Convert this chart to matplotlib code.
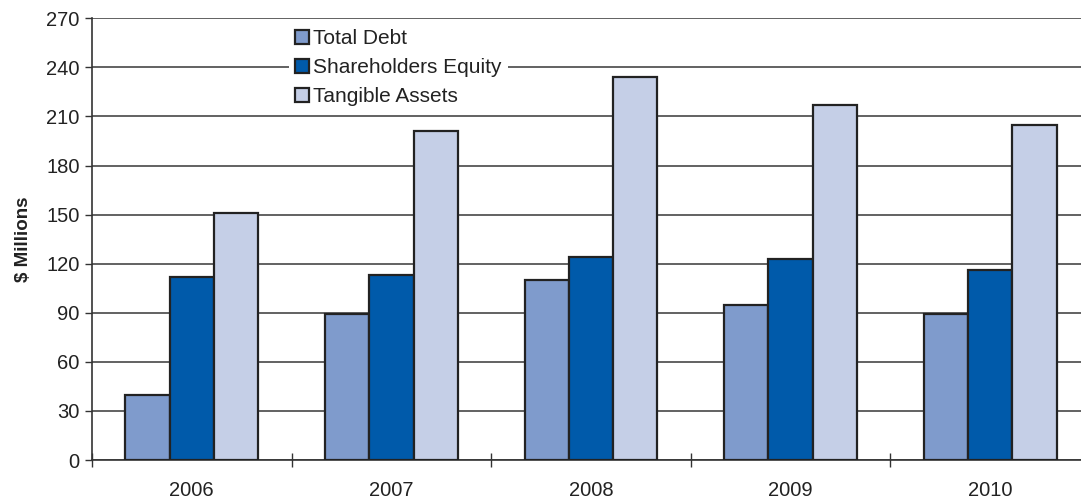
import matplotlib.pyplot as plt
import numpy as np
from matplotlib.ticker import FixedLocator

plt.rcParams["font.family"] = ["Liberation Sans", "DejaVu Sans"]

years = ["2006", "2007", "2008", "2009", "2010"]
total_debt = [40, 89, 110, 95, 89]
shareholders_equity = [112, 113, 124, 123, 116]
tangible_assets = [151, 201, 234, 217, 205]

series = [
    ("Total Debt", total_debt, "#7f9bcc"),
    ("Shareholders Equity", shareholders_equity, "#005aaa"),
    ("Tangible Assets", tangible_assets, "#c5cfe7"),
]

fig = plt.figure(figsize=(10.81, 4.99), dpi=100)
# axes runs slightly past the right edge, so the right border is cut off
ax = fig.add_axes([92 / 1081, 1 - 460 / 499, 998 / 1081, (460 - 18.3) / 499])

x = np.arange(len(years))
width = 0.222
for i, (label, vals, color) in enumerate(series):
    ax.bar(x + (i - 1) * width, vals, width, color=color, edgecolor="#222222",
           linewidth=1.6, label=label, zorder=3)

ax.set_xlim(-0.5, len(years) - 0.5)
ax.set_ylim(0, 270)
ax.set_yticks(np.arange(0, 271, 30))
ax.yaxis.grid(True, color="#555555", linewidth=1.3, zorder=0)
ax.set_axisbelow(True)

# year boundaries carry the ticks, labels sit at the group centres
ax.xaxis.set_major_locator(FixedLocator(np.arange(-0.5, len(years), 1.0)))
ax.set_xticklabels([])
ax.xaxis.set_minor_locator(FixedLocator(x))
ax.set_xticklabels(years, minor=True)
ax.tick_params(axis="x", which="major", direction="inout", length=10,
               width=1.0, color="#333333")
ax.tick_params(axis="x", which="minor", length=0, pad=15, labelsize=14.5,
               labelcolor="#222222")
ax.tick_params(axis="y", direction="out", length=5, width=1.0,
               color="#333333", labelsize=14.5, labelcolor="#222222", pad=4)

for side in ("top", "right"):
    ax.spines[side].set_visible(False)
for side in ("left", "bottom"):
    ax.spines[side].set_color("#333333")
    ax.spines[side].set_linewidth(1.2)

ax.set_ylabel("$ Millions", fontsize=13.5, fontweight="bold", color="#222222",
              labelpad=10)

leg = ax.legend(loc="upper left", bbox_to_anchor=(0.197, 0.99), frameon=True,
                fontsize=15, handlelength=0.68, handleheight=0.68,
                handletextpad=0.2, labelspacing=0.48, borderpad=0.3,
                borderaxespad=0)
leg.get_frame().set_edgecolor("none")
leg.get_frame().set_facecolor("white")
leg.get_frame().set_alpha(1.0)
leg.set_zorder(5)
for t in leg.get_texts():
    t.set_color("#222222")

fig.savefig("out.png", dpi=100)
